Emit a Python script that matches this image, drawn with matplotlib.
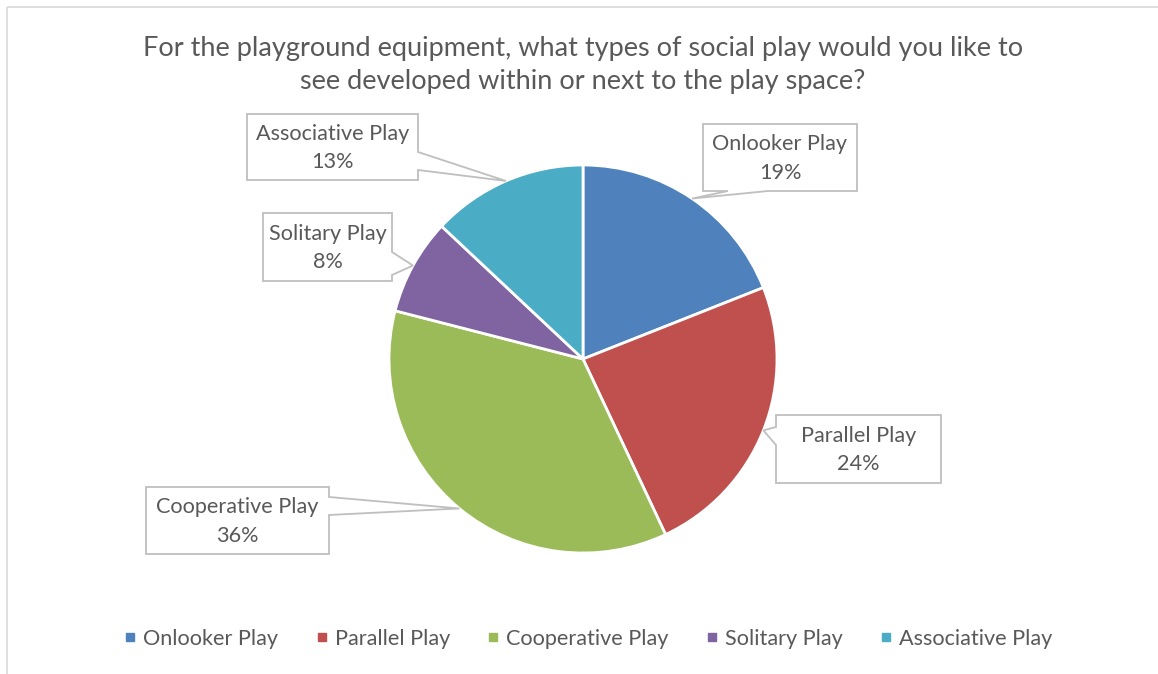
import matplotlib
matplotlib.use("Agg")
import matplotlib.pyplot as plt
import numpy as np
from matplotlib.patches import Polygon
from matplotlib.lines import Line2D

categories = ["Onlooker Play", "Parallel Play", "Cooperative Play", "Solitary Play", "Associative Play"]
values = [19, 24, 36, 8, 13]
colors = ["#4F81BD", "#C0504D", "#9BBB59", "#8064A2", "#4BACC6"]
title = "For the playground equipment, what types of social play would you like to\nsee developed within or next to the play space?"

W, H = 1158, 674
FONT = "Lato"
TXT = "#595959"

fig = plt.figure(figsize=(W / 100, H / 100), dpi=100)
ax = fig.add_axes([0, 0, 1, 1])

def Y(y):
    return H - y

cx, cy, R = 583, 359, 194
ax.pie(values, colors=colors, startangle=90, counterclock=False,
       center=(cx, Y(cy)), radius=R,
       wedgeprops=dict(edgecolor="white", linewidth=2))
ax.set_xlim(0, W)
ax.set_ylim(0, H)
ax.set_aspect("equal")
ax.axis("off")

# border (top and left visible)
ax.plot([6.5, W], [Y(6.5), Y(6.5)], color="#D9D9D9", lw=1.2, solid_capstyle="butt")
ax.plot([6.5, 6.5], [Y(6.5), 0], color="#D9D9D9", lw=1.2, solid_capstyle="butt")

# title
ax.text(583, Y(65), title, ha="center", va="center", fontsize=19.5,
        family=FONT, color=TXT, linespacing=1.4)

# callout boxes: (x0, y0, x1, y1, side, a, b)  side: edge where pointer attaches
boxes = {
    "Onlooker Play": (703, 124, 857, 191, "bottom", 728, 768),
    "Parallel Play": (776, 415, 941, 483, "left", 427, 445),
    "Cooperative Play": (146, 487, 329, 554, "right", 497, 515),
    "Solitary Play": (263, 213, 392, 281, "right", 252, 275),
    "Associative Play": (247, 114, 418, 180, "right", 152, 170),
}

total = sum(values)
cum = 0
for cat, v in zip(categories, values):
    mid = (cum + v / 2) / total * 2 * np.pi
    cum += v
    tx = cx + R * np.sin(mid)
    ty = cy - R * np.cos(mid)
    x0, y0, x1, y1, side, a, b = boxes[cat]
    if side == "bottom":
        pts = [(x0, y0), (x1, y0), (x1, y1), (b, y1), (tx, ty), (a, y1), (x0, y1)]
    elif side == "left":
        pts = [(x0, y0), (x1, y0), (x1, y1), (x0, y1), (x0, b), (tx, ty), (x0, a)]
    else:  # right
        pts = [(x0, y0), (x1, y0), (x1, a), (tx, ty), (x1, b), (x1, y1), (x0, y1)]
    poly = Polygon([(p[0], Y(p[1])) for p in pts], closed=True, facecolor="white",
                   edgecolor="#BFBFBF", lw=1.3, zorder=5)
    ax.add_patch(poly)
    xm = (x0 + x1) / 2
    ym = (y0 + y1) / 2
    ax.text(xm, Y(ym + 1), f"{cat}\n{v}%", ha="center", va="center", fontsize=15.6,
            family=FONT, color=TXT, linespacing=1.55, zorder=6)

handles = [Line2D([], [], marker="s", linestyle="none", markersize=5.5,
                  markerfacecolor=c, markeredgecolor=c) for c in colors]
fig.legend(handles, categories, loc="center", bbox_to_anchor=(588 / W, 1 - 639 / H),
           ncol=5, frameon=False, prop=dict(family=FONT, size=15.6),
           labelcolor=TXT, handlelength=0.6, handletextpad=0.3, columnspacing=1.7)

fig.savefig("out.png", dpi=100, facecolor="white")
